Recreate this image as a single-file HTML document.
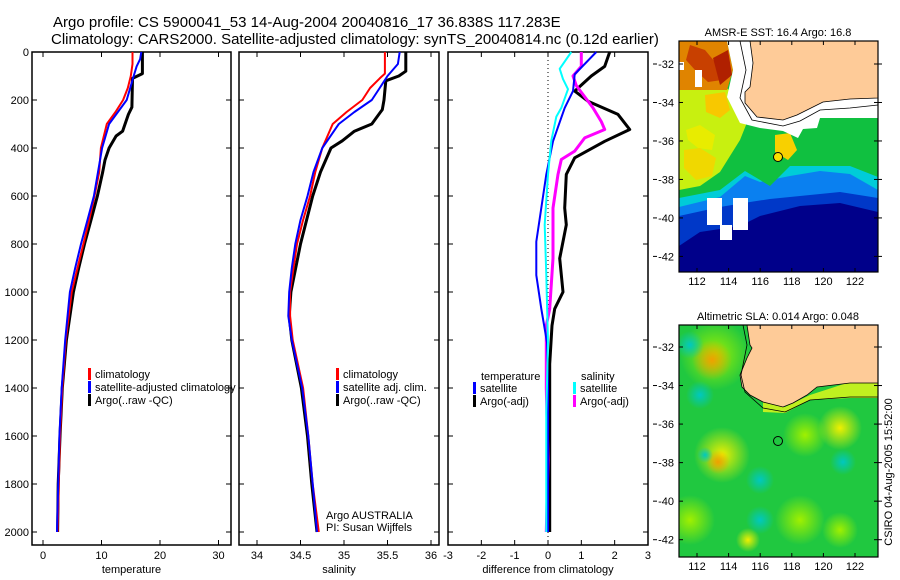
<!DOCTYPE html>
<html><head><meta charset="utf-8"><style>
html,body{margin:0;padding:0;background:#fff;}
svg{display:block;font-family:"Liberation Sans",sans-serif;}
</style></head><body>
<svg id="fig" width="900" height="580" viewBox="0 0 900 580" xmlns="http://www.w3.org/2000/svg">
<text x="53" y="27" font-size="15">Argo profile: CS 5900041_53 14-Aug-2004 20040816_17 36.838S 117.283E</text>
<text x="51" y="44" font-size="15">Climatology: CARS2000. Satellite-adjusted climatology: synTS_20040814.nc (0.12d earlier)</text>
<g id="panels"></g>
<g id="maps"></g>
</svg>
<script>
// ---------- profile data ----------
const tDepthClim = [0,50,100,150,200,250,300,400,500,600,700,800,900,1000,1200,1400,1600,1800,2000];
const tClim      = [15.3,15.3,15.0,14.5,13.7,12.4,10.9,9.9,9.6,8.8,7.9,6.9,5.9,4.9,3.9,3.3,2.9,2.7,2.5];
const tDepthSat  = [0,30,60,100,150,200,250,300,400,500,600,700,800,900,1000,1200,1400,1600,1800,2000];
const tSat       = [16.8,16.6,16.0,15.5,14.9,14.3,12.8,11.3,10.1,9.4,8.7,7.6,6.5,5.5,4.6,3.8,3.2,2.8,2.6,2.4];
const tDepthArgo = [0,90,110,230,260,330,350,400,450,500,600,700,800,900,1000,1200,1400,1600,1800,2000];
const tArgo      = [17.0,17.0,15.3,15.2,14.6,13.6,12.5,11.3,10.6,10.2,9.3,8.2,7.1,6.1,5.2,4.0,3.3,2.9,2.6,2.5];

const sDepthClim = [0,90,110,150,200,250,300,400,500,600,700,800,900,1000,1100,1200,1400,1600,1800,2000];
const sClim      = [35.47,35.47,35.41,35.30,35.21,35.03,34.87,34.75,34.67,34.61,34.53,34.46,34.42,34.38,34.38,34.41,34.53,34.59,34.64,34.71];
const sDepthSat  = [0,50,100,150,200,250,300,400,500,600,700,800,900,1000,1100,1200,1400,1600,1800,2000];
const sSat       = [35.64,35.62,35.50,35.41,35.32,35.12,34.94,34.75,34.65,34.58,34.50,34.44,34.40,34.37,34.36,34.40,34.52,34.59,34.64,34.69];
const sDepthArgo = [0,80,100,120,200,240,300,330,370,400,500,600,800,1000,1100,1200,1400,1600,1800,2000];
const sArgo      = [35.71,35.71,35.63,35.48,35.46,35.44,35.32,35.12,34.98,34.85,34.73,34.64,34.50,34.39,34.37,34.40,34.51,34.58,34.63,34.69];

const dDepthTSat  = [0,93,163,233,372,510,650,790,930,1070,1210,1400,1600,1800,2000];
const dTSat       = [1.45,0.8,0.75,0.5,0.15,-0.05,-0.2,-0.35,-0.35,-0.2,-0.03,0,0,0,0];
const dDepthTArgo = [0,60,100,163,205,260,323,372,441,510,650,720,860,1000,1070,1140,1300,1500,1700,2000];
const dTArgo      = [1.85,1.7,1.3,0.8,1.2,2.1,2.45,1.7,0.8,0.55,0.5,0.55,0.35,0.45,0.2,0.12,0.05,0.05,0.05,0.05];
const dDepthSSat  = [0,70,113,155,233,270,370,510,720,930,1210,1500,2000];
const dSSat       = [0.7,0.35,0.45,0.6,0.4,0.25,0.1,0.0,-0.1,-0.05,0.0,-0.05,-0.05];
const dDepthSArgo = [0,60,100,140,233,290,323,358,413,448,510,650,860,1070,1140,1400,1700,2000];
const dSArgo      = [1.0,1.0,0.75,0.85,1.35,1.6,1.7,1.1,0.8,0.4,0.3,0.15,0.15,0.05,-0.05,-0.05,0,-0.05];

const depthTicks = [0,200,400,600,800,1000,1200,1400,1600,1800,2000];
const tTicks = [0,10,20,30];
const sTicks = [34,34.5,35,35.5,36];
const sTickLabels = ["34","34.5","35","35.5","36"];
const dTicks = [-3,-2,-1,0,1,2,3];

const NS="http://www.w3.org/2000/svg";
function mk(tag, attrs, parent){const e=document.createElementNS(NS,tag);for(const k in attrs)e.setAttribute(k,attrs[k]);parent.appendChild(e);return e;}
const yDepth = d => 52 + 0.24*d;
const PT = {x0:32,x1:231, f:v=>43+5.85*v};
const PS = {x0:239,x1:439, f:v=>257+87*(v-34)};
const PD = {x0:448,x1:648, f:v=>548+33.33*v};
const G = document.getElementById('panels');

function panel(P, ticks, labels, title, name, leftLabels){
  const g = mk('g',{},G);
  
  
  const r = mk('rect',{x:P.x0,y:52,width:P.x1-P.x0,height:493,fill:'none',stroke:'#000','stroke-width':1.5},g);
  
  
  depthTicks.forEach(d=>{
    const y=yDepth(d);
    mk('line',{x1:P.x0,x2:P.x0+5,y1:y,y2:y,stroke:'#000'},g);
    mk('line',{x1:P.x1-5,x2:P.x1,y1:y,y2:y,stroke:'#000'},g);
    if(leftLabels){
      const t=mk('text',{x:P.x0-3,y:y+4,'font-size':11,'text-anchor':'end'},g);
      t.textContent=d;
      
      
    }
  });
  ticks.forEach((v,i)=>{
    const x=P.f(v);
    if(x>P.x0+1 && x<P.x1-1){
      mk('line',{x1:x,x2:x,y1:52,y2:57,stroke:'#000'},g);
      mk('line',{x1:x,x2:x,y1:540,y2:545,stroke:'#000'},g);
    }
    const t=mk('text',{x:x,y:559,'font-size':11,'text-anchor':'middle'},g);
    t.textContent=labels[i];
    
    
  });
  const at=mk('text',{x:(P.x0+P.x1)/2,y:573,'font-size':11,'text-anchor':'middle'},g);
  at.textContent=title;
  
  
  return g;
}
function line(g,P,depths,vals,color,w,name){
  const pts=depths.map((d,i)=>P.f(vals[i]).toFixed(1)+','+yDepth(d).toFixed(1)).join(' ');
  const p=mk('polyline',{points:pts,fill:'none',stroke:color,'stroke-width':w,'stroke-linejoin':'round'},g);
  
  
}
function legend(g,x,y,color,text,name){
  mk('rect',{x:x,y:y-10,width:3,height:12,fill:color},g);
  const t=mk('text',{x:x+7,y:y,'font-size':11},g);
  t.textContent=text;
  
  
}

const g1=panel(PT,tTicks,tTicks.map(String),'temperature','temperature-panel',true);
line(g1,PT,tDepthArgo,tArgo,'#000',3,'temp-argo-line');
line(g1,PT,tDepthClim,tClim,'#f00',2,'temp-climatology-line');
line(g1,PT,tDepthSat,tSat,'#00f',2,'temp-satellite-line');
legend(g1,88,378,'#f00','climatology','legend-climatology');
legend(g1,88,391,'#00f','satellite-adjusted climatology','legend-satellite');
legend(g1,88,404,'#000','Argo(..raw -QC)','legend-argo');

const g2=panel(PS,sTicks,sTickLabels,'salinity','salinity-panel',false);
line(g2,PS,sDepthArgo,sArgo,'#000',3,'sal-argo-line');
line(g2,PS,sDepthClim,sClim,'#f00',2,'sal-climatology-line');
line(g2,PS,sDepthSat,sSat,'#00f',2,'sal-satellite-line');
legend(g2,336,378,'#f00','climatology','legend-climatology');
legend(g2,336,391,'#00f','satellite adj. clim.','legend-satellite');
legend(g2,336,404,'#000','Argo(..raw -QC)','legend-argo');
const a1=mk('text',{x:326,y:519,'font-size':11},g2);a1.textContent='Argo AUSTRALIA';


const a2=mk('text',{x:326,y:531,'font-size':11},g2);a2.textContent='PI: Susan Wijffels';



const g3=panel(PD,dTicks,dTicks.map(String),'difference from climatology','difference-panel',false);
mk('line',{x1:PD.f(0),x2:PD.f(0),y1:52,y2:545,stroke:'#000','stroke-dasharray':'1,3'},g3);
line(g3,PD,dDepthTArgo,dTArgo,'#000',3,'diff-temp-argo-line');
line(g3,PD,dDepthSArgo,dSArgo,'#f0f',3,'diff-sal-argo-line');
line(g3,PD,dDepthTSat,dTSat,'#00f',2,'diff-temp-satellite-line');
line(g3,PD,dDepthSSat,dSSat,'#0ff',2,'diff-sal-satellite-line');
const lt=mk('text',{x:481,y:380,'font-size':11},g3);lt.textContent='temperature';


legend(g3,473,392,'#00f','satellite','legend-temp-satellite');
legend(g3,473,405,'#000','Argo(-adj)','legend-temp-argo');
const ls=mk('text',{x:581,y:380,'font-size':11},g3);ls.textContent='salinity';


legend(g3,573,392,'#0ff','satellite','legend-sal-satellite');
legend(g3,573,405,'#f0f','Argo(-adj)','legend-sal-argo');

// ---------- maps ----------
const M=document.getElementById('maps');
const lonTicks=[112,114,116,118,120,122];
const latTicks=[-32,-34,-36,-38,-40,-42];
const lonX=l=>697+(l-112)*15.8;
function poly(g,pts,fill){const p=mk('polygon',{points:pts.map(a=>a.join(',')).join(' '),fill:fill},g);return p;}
function mapFrame(g,top,bot,latY,title,name){
  mk('rect',{x:679,y:top,width:199,height:bot-top,fill:'none',stroke:'#000','stroke-width':1.2},g);
  lonTicks.forEach(l=>{const x=lonX(l);
    mk('line',{x1:x,x2:x,y1:bot,y2:bot-4,stroke:'#000'},g);
    mk('line',{x1:x,x2:x,y1:top,y2:top+4,stroke:'#000'},g);
    const t=mk('text',{x:x,y:bot+13,'font-size':11,'text-anchor':'middle'},g);t.textContent=l;
    
    });
  latTicks.forEach(l=>{const y=latY(l);
    mk('line',{x1:679,x2:683,y1:y,y2:y,stroke:'#000'},g);
    mk('line',{x1:874,x2:882,y1:y,y2:y,stroke:'#000'},g);
    mk('line',{x1:653,x2:657,y1:y,y2:y,stroke:'#000'},g);
    const t=mk('text',{x:674,y:y+4,'font-size':11,'text-anchor':'end'},g);t.textContent=l;
    
    });
  const tt=mk('text',{x:778,y:top-5,'font-size':11,'text-anchor':'middle'},g);tt.textContent=title;
  
  
}
// SST map
const m1=mk('g',{},M);


const d1=mk('defs',{},m1);
const cp1=mk('clipPath',{id:'c1'},d1);mk('rect',{x:679,y:41,width:199,height:231},cp1);
const c1=mk('g',{'clip-path':'url(#c1)'},m1);
mk('rect',{x:679,y:41,width:199,height:231,fill:'#00008a'},c1);
poly(c1,[[679,41],[878,41],[878,212],[840,203],[800,206],[760,216],[740,226],[700,232],[679,246]],'#0038c8');
poly(c1,[[679,41],[878,41],[878,198],[840,192],[800,196],[770,199],[750,202],[720,207],[679,216]],'#0a80f0');
poly(c1,[[679,41],[878,41],[878,190],[850,174],[820,171],[790,176],[760,182],[745,176],[720,197],[679,207]],'#00ccd8');
poly(c1,[[679,41],[878,41],[878,177],[850,166],[820,166],[790,166],[770,186],[745,171],[720,190],[679,198]],'#10c040');
poly(c1,[[679,88],[727,88],[742,105],[746,125],[740,140],[730,156],[720,172],[700,186],[679,190]],'#c8f010');
poly(c1,[[686,130],[700,125],[715,135],[712,150],[698,148],[688,140]],'#e8ec00');
poly(c1,[[684,150],[700,148],[716,158],[712,176],[696,180],[684,168]],'#f0d800');
poly(c1,[[705,95],[725,92],[730,110],[720,118],[706,112]],'#f8c800');
poly(c1,[[775,135],[790,133],[797,150],[788,160],[775,152]],'#f8d000');
poly(c1,[[679,41],[727,41],[733,70],[727,90],[679,90]],'#e08400');
poly(c1,[[690,45],[705,50],[715,62],[722,80],[708,82],[695,70],[686,60]],'#c84000');
poly(c1,[[713,58],[728,50],[732,75],[720,85]],'#b02000');
[[679,62,5,8],[695,70,7,17],[707,198,15,27],[720,225,12,15],[733,198,15,32]].forEach(r=>mk('rect',{x:r[0],y:r[1],width:r[2],height:r[3],fill:'#fff'},c1));
poly(c1,[[727,41],[733,70],[727,97],[740,123],[760,128],[783,131],[798,138],[803,129],[817,128],[820,118],[878,118],[878,41]],'#fff');
const land1=poly(c1,[[750,41],[753,63],[750,87],[745,92],[745,103],[757,117],[783,120],[797,115],[807,110],[823,102],[850,99],[878,98],[878,41]],'#fecb98');
land1.setAttribute('stroke','#000');land1.setAttribute('stroke-width','0.8');
mk('polyline',{points:'740,41 746,70 740,98 752,120 783,126 800,121 820,110 850,108 878,105',fill:'none',stroke:'#000','stroke-width':0.8},c1);
mk('circle',{cx:778,cy:157,r:4.5,fill:'#f8e000',stroke:'#000','stroke-width':1},c1);
mapFrame(m1,41,272,l=>64+(-32-l)*19.24,'AMSR-E SST: 16.4 Argo: 16.8','sst-map');

// SLA map
const m2=mk('g',{},M);


const defs=mk('defs',{},m2);
const cp2=mk('clipPath',{id:'c2'},defs);mk('rect',{x:679,y:325,width:199,height:232},cp2);
function rg(id,c){const r=mk('radialGradient',{id:id},defs);mk('stop',{offset:'0','stop-color':c,'stop-opacity':1},r);mk('stop',{offset:'1','stop-color':c,'stop-opacity':0},r);}
rg('gy','#f0f000');rg('go','#f0a000');rg('gc','#00c8c0');rg('gl','#a0f000');
const c2=mk('g',{'clip-path':'url(#c2)'},m2);
mk('rect',{x:679,y:325,width:199,height:232,fill:'#20c840'},c2);
[['gl',715,355,35],['go',712,360,20],['gy',722,455,28],['go',718,462,12],['gy',840,428,22],['gl',805,435,22],['gl',690,520,25],['gl',800,520,25],['gl',840,530,18],['gy',748,540,12],['gc',690,345,14],['gc',700,395,14],['gc',843,462,13],['gc',705,455,8],['gc',760,480,14],['gc',760,520,14]].forEach(b=>mk('circle',{cx:b[1],cy:b[2],r:b[3],fill:'url(#'+b[0]+')'},c2));
poly(c2,[[763,402],[785,407],[810,395],[850,382],[878,382],[878,398],[850,398],[810,400],[785,413],[763,412]],'#c0f020');
const land2=poly(c2,[[747,325],[750,345],[752,348],[747,358],[740,375],[742,387],[750,395],[763,402],[783,407],[793,403],[807,395],[817,387],[850,383],[878,383],[878,325]],'#fecb98');
land2.setAttribute('stroke','#000');land2.setAttribute('stroke-width','0.8');
mk('polyline',{points:'743,325 747,345 741,375 745,392 763,408 785,412 810,400 850,397 878,397',fill:'none',stroke:'#000','stroke-width':0.8},c2);
mk('circle',{cx:778,cy:441,r:4.5,fill:'none',stroke:'#000','stroke-width':1},c2);
mapFrame(m2,325,557,l=>347+(-32-l)*19.27,'Altimetric SLA: 0.014 Argo: 0.048','sla-map');
const cs=mk('text',{x:0,y:0,'font-size':11,'text-anchor':'middle',transform:'translate(892,472) rotate(-90)'},M);
cs.textContent='CSIRO 04-Aug-2005 15:52:00';


</script>
</body></html>
